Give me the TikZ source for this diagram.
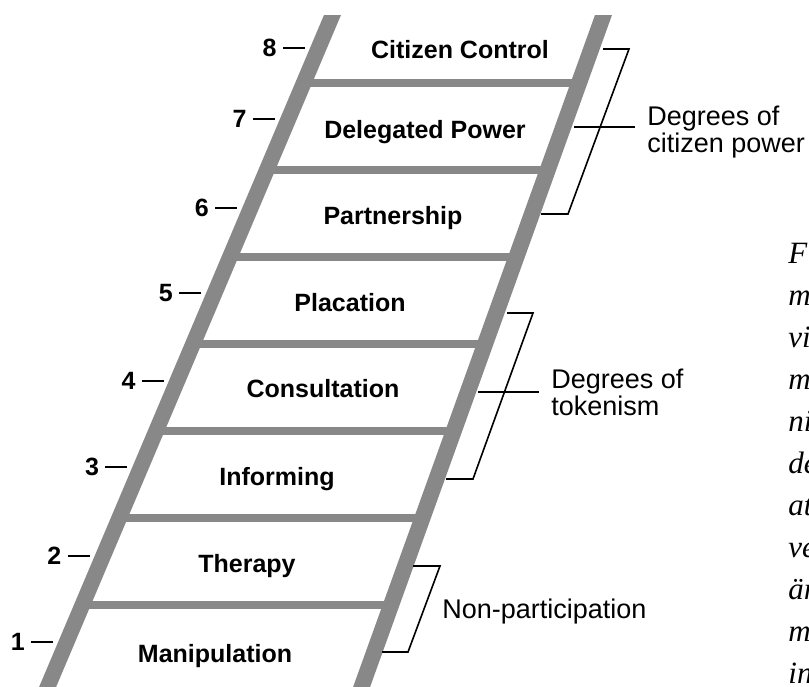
\documentclass[tikz,border=0pt]{standalone}
\usepackage{fontspec}
\setmainfont{Liberation Sans}
\newfontfamily\cutfont{Liberation Serif}
\usepackage{tikz}
\definecolor{railgray}{RGB}{136,136,136}

\begin{document}
\begin{tikzpicture}[x=0.5pt, y=-0.5pt,
                    rail/.style={fill=railgray},
                    rung/.style={draw=railgray, line width=4pt},
                    rung label/.style={font=\fontsize{12.5}{15}\selectfont\bfseries, inner sep=0pt, anchor=base},
                    num/.style={font=\fontsize{12.5}{15}\selectfont\bfseries, inner sep=0pt, anchor=east},
                    tick/.style={draw, line width=0.9pt},
                    brace/.style={draw, line width=0.8pt, line join=miter},
                    group/.style={font=\fontsize{13.5}{13.5}\selectfont, align=left, inner xsep=6pt, inner ysep=0pt},
                    cut/.style={font=\cutfont\itshape\fontsize{15.5}{18}\selectfont, inner sep=0pt, anchor=base west}]

\useasboundingbox (0,0) rectangle (809,686);
\clip (0,0) rectangle (809,686);

\foreach \y in {83,170,...,605}
  \draw[rung] ({332.5-0.424*(\y-15)},\y) -- ({603.5-0.36*(\y-15)},\y);

\fill[rail] (324,15) -- (341,15) -- ({341-0.424*680},695) -- ({324-0.424*680},695) -- cycle;
\fill[rail] (595,15) -- (612,15) -- ({612-0.36*680},695) -- ({595-0.36*680},695) -- cycle;

\foreach \x/\y/\id/\txt in {460/58/control/Citizen Control, 425/138/delegated/Delegated Power,
                            393/224/partner/Partnership, 350/311/placate/Placation,
                            323/397/consult/Consultation, 277/485/inform/Informing,
                            247/572/therapy/Therapy, 215/662/manip/Manipulation}
  \node[rung label] (\id) at (\x,\y) {\txt};

\foreach \i/\y in {8/48,7/119,6/208,5/293,4/381,3/467,2/556,1/642} {
  \node[num] (n\i) at ({277-0.424*(\y-48)},\y) {\i};
  \draw[tick] (n\i.east) ++(6,0) -- ++(22,0);
}

\draw[brace] (603,49) -- (629,49) -- (568,214) -- (541,214);
\draw[brace] (507,313) -- (533,313) -- (473,479) -- (446,479);
\draw[brace] (413,566) -- (440,566) -- (408,652) -- (382,652);

\node[group, anchor=west] (power) at (635,132) {Degrees of\\citizen power};
\node[group, anchor=west] (token) at (539,392) {Degrees of\\tokenism};
\node[group, anchor=base west] (nonpart) at (430,618) {Non-participation};

\coordinate (pw) at (574,127);
\coordinate (tk) at (478,392);
\draw[brace] (pw) -- (pw -| power.west);
\draw[brace] (tk) -- (tk -| token.west);

\foreach \t [count=\k from 0] in {F,m,vi,m,ni,de,at,ve,är,m,in}
  \node[cut] (c\k) at (788,{263+42*\k}) {\t};
\end{tikzpicture}
\end{document}
